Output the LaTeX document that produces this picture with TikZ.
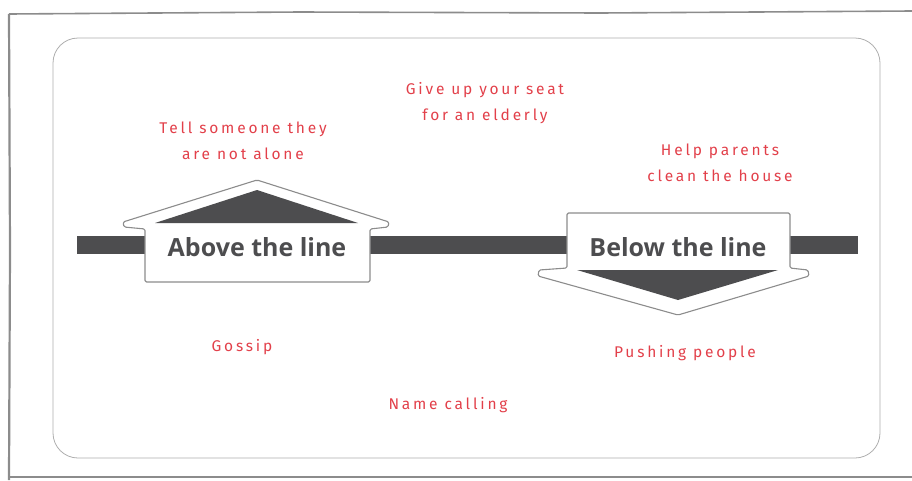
\documentclass[tikz,border=0pt]{standalone}
\usepackage{fontspec}
\newfontfamily\handfont[LetterSpace=18]{Fira Sans}
\newfontfamily\signfont{Open Sans}
\usetikzlibrary{positioning}
\definecolor{linegray}{HTML}{4D4D4F}
\definecolor{framegray}{HTML}{8C8C8C}
\definecolor{deedred}{HTML}{E2404A}

\begin{document}
\begin{tikzpicture}[x=1pt,y=-1pt,
 deed/.style={text=deedred,font=\handfont\fontsize{15.5}{26}\selectfont,align=center,inner sep=0pt},
 sign/.style={text=linegray,font=\signfont\bfseries\fontsize{25}{28}\selectfont,inner sep=0pt},
 outline/.style={draw=framegray,line width=1.1pt,fill=white,line join=round,rounded corners=1.5pt}]
 \useasboundingbox (0,0) rectangle (912,480);

 % sketchy outer frame
 \draw[framegray,line width=2.2pt] (9,14) -- (10,250) -- (9,480);
 \draw[framegray,line width=1.6pt] (9,14) -- (300,12) -- (600,13) -- (912,11);
 \draw[framegray,line width=1.6pt] (9,477) -- (912,477);
 \draw[framegray!70,line width=0.8pt,rounded corners=25pt] (53,38) rectangle (880,458);

 % the line
 \fill[linegray] (77,236) rectangle (858,254);

 % above the line
 \path[outline] (145,282) -- (145,229) -- (124,227) -- (123,222) -- (257,180)
  -- (389,222) -- (388,227) -- (370,229) -- (370,282) -- cycle;
 \fill[linegray] (155,223) -- (257,190) -- (358,223) -- cycle;
 \node[sign] (above) at (257,247) {Above the line};

 % below the line
 \path[outline] (567,213) -- (790,213) -- (790,268) -- (808,270) -- (809,276)
  -- (678,315) -- (538,276) -- (539,270) -- (567,268) -- cycle;
 \fill[linegray] (577,270) -- (778,270) -- (678,300) -- cycle;
 \node[sign] (below) at (678,247) {Below the line};

 % deeds
 \node[deed] (tell) at (243,141) {Tell someone they\\are not alone};
 \node[deed] (seat) at (485,103) {Give up your seat\\for an elderly};
 \node[deed] (help) at (720,163) {Help parents\\clean the house};
 \node[deed] (gossip) at (242,347) {Gossip};
 \node[deed] (push) at (685,353) {Pushing people};
 \node[deed] (name) at (448,405) {Name calling};
\end{tikzpicture}
\end{document}
